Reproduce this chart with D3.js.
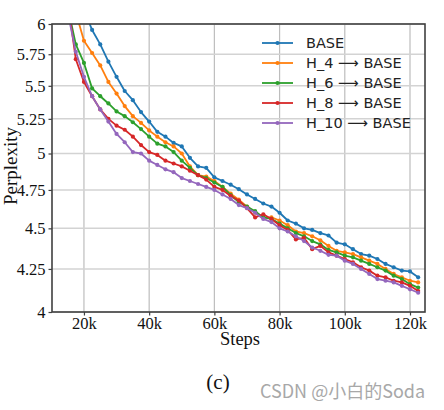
<!DOCTYPE html>
<html>
<head>
<meta charset="utf-8">
<script src="https://cdn.jsdelivr.net/npm/d3@7/dist/d3.min.js"></script>
<style>
  html, body { margin: 0; padding: 0; background: #fff; }
  svg { display: block; }
</style>
</head>
<body>
<svg id="chart" width="444" height="410"></svg>
<script>
// ---- data (steps in thousands) ----
const steps = [15,17.5,20,22.5,25,27.5,30,32.5,35,37.5,40,42.5,45,47.5,50,52.5,55,57.5,60,62.5,65,67.5,70,72.5,75,77.5,80,82.5,85,87.5,90,92.5,95,97.5,100,102.5,105,107.5,110,112.5,115,117.5,120,122.5];
const base = [6.55,6.32,6.12,5.95,5.83,5.69,5.57,5.46,5.39,5.30,5.23,5.155,5.12,5.075,5.05,4.97,4.91,4.90,4.835,4.81,4.785,4.755,4.72,4.69,4.66,4.64,4.60,4.55,4.53,4.50,4.49,4.47,4.455,4.41,4.40,4.37,4.34,4.33,4.31,4.28,4.26,4.24,4.235,4.20];
const h4 = [6.4,6.1,5.86,5.76,5.66,5.53,5.44,5.345,5.27,5.22,5.165,5.12,5.08,5.05,5.0,4.91,4.85,4.84,4.81,4.77,4.725,4.685,4.64,4.60,4.57,4.57,4.55,4.52,4.48,4.47,4.45,4.425,4.39,4.36,4.35,4.34,4.32,4.30,4.28,4.25,4.22,4.20,4.18,4.17];
const h6 = [6.15,5.83,5.68,5.48,5.42,5.365,5.305,5.27,5.225,5.175,5.12,5.07,5.05,5.01,4.95,4.90,4.85,4.83,4.80,4.77,4.715,4.67,4.64,4.61,4.57,4.56,4.53,4.50,4.47,4.45,4.42,4.40,4.365,4.35,4.33,4.32,4.30,4.28,4.26,4.24,4.21,4.19,4.16,4.14];
const h8 = [6.2,5.71,5.53,5.42,5.32,5.25,5.20,5.17,5.12,5.06,5.01,4.99,4.95,4.93,4.91,4.88,4.85,4.82,4.77,4.75,4.71,4.68,4.63,4.57,4.59,4.56,4.52,4.49,4.43,4.44,4.37,4.39,4.35,4.33,4.31,4.29,4.26,4.24,4.21,4.20,4.18,4.17,4.15,4.12];
const h10 = [6.1,5.77,5.57,5.42,5.32,5.23,5.14,5.08,5.01,5.00,4.95,4.92,4.89,4.87,4.83,4.81,4.79,4.77,4.75,4.72,4.69,4.65,4.63,4.60,4.56,4.54,4.50,4.48,4.45,4.42,4.38,4.36,4.335,4.33,4.30,4.28,4.25,4.22,4.19,4.18,4.17,4.15,4.13,4.11];
const seriesNames = ["BASE", "H_4 \u27F6 BASE", "H_6 \u27F6 BASE", "H_8 \u27F6 BASE", "H_10 \u27F6 BASE"];
const seriesValues = [base, h4, h6, h8, h10];
const colors = ["#1f77b4", "#ff7f0e", "#2ca02c", "#d62728", "#9467bd"];
const xTicks = [20, 40, 60, 80, 100, 120];
const yTicks = [4, 4.25, 4.5, 4.75, 5, 5.25, 5.5, 5.75, 6];
const yTickLabels = ["4", "4.25", "4.5", "4.75", "5", "5.25", "5.5", "5.75", "6"];

// ---- layout ----
const L = 52, R = 425, T = 24, B = 312;
const serif = "'Liberation Serif', 'Times New Roman', 'DejaVu Serif', serif";
const sans = "'DejaVu Sans', 'Liberation Sans', sans-serif";

const svg = d3.select("#chart");
const x = d3.scaleLinear().domain([10.2, 124.6]).range([L, R]);
const y = d3.scaleLog().domain([4, 6]).range([B, T]);

// clip
svg.append("defs").append("clipPath").attr("id", "clip")
  .append("rect").attr("x", L).attr("y", T).attr("width", R - L).attr("height", B - T);

// grid
const grid = svg.append("g");
grid.selectAll("line.vx").data(xTicks).enter().append("line")
  .attr("x1", d => x(d)).attr("x2", d => x(d)).attr("y1", T).attr("y2", B)
  .attr("stroke", "#bdbdbd").attr("stroke-width", 1.2);
grid.selectAll("line.hy").data(yTicks).enter().append("line")
  .attr("x1", L).attr("x2", R).attr("y1", d => y(d)).attr("y2", d => y(d))
  .attr("stroke", "#d3d3d3").attr("stroke-width", 1.5);

// series
const plot = svg.append("g").attr("clip-path", "url(#clip)");
const line = d3.line().x((d, i) => x(steps[i])).y(d => y(d));
seriesValues.forEach((vals, k) => {
  const g = plot.append("g");
  g.append("path").datum(vals).attr("d", line)
    .attr("fill", "none").attr("stroke", colors[k]).attr("stroke-width", 1.8)
    .attr("stroke-linejoin", "round");
  g.selectAll("circle").data(vals).enter().append("circle")
    .attr("cx", (d, i) => x(steps[i])).attr("cy", d => y(d)).attr("r", 2.1)
    .attr("fill", colors[k]);
});

// frame
svg.append("rect").attr("x", L).attr("y", T).attr("width", R - L).attr("height", B - T)
  .attr("fill", "none").attr("stroke", "#404040").attr("stroke-width", 1.6);

// axes
const xAxis = svg.append("g").attr("transform", `translate(0,${B})`)
  .call(d3.axisBottom(x).tickValues(xTicks).tickFormat(d => d + "k").tickSize(3.5).tickPadding(2));
const yAxis = svg.append("g").attr("transform", `translate(${L},0)`)
  .call(d3.axisLeft(y).tickValues(yTicks).tickFormat((d, i) => yTickLabels[i]).tickSize(3.5).tickPadding(3));
[xAxis, yAxis].forEach(a => {
  a.select(".domain").remove();
  a.selectAll(".tick line").attr("stroke", "#404040").attr("stroke-width", 1.2);
  a.selectAll(".tick text").attr("fill", "#111").style("font-family", serif).style("font-size", "16.5px");
});

// axis titles
svg.append("text").attr("x", 240).attr("y", 345).attr("text-anchor", "middle")
  .style("font-family", serif).style("font-size", "18.5px").attr("fill", "#111").text("Steps");
svg.append("text").attr("transform", "translate(17,166) rotate(-90)").attr("text-anchor", "middle")
  .style("font-family", serif).style("font-size", "19px").attr("fill", "#111").text("Perplexity");

// legend
const leg = svg.append("g");
seriesNames.forEach((name, k) => {
  const cy = 43 + k * 20;
  leg.append("line").attr("x1", 262).attr("x2", 293).attr("y1", cy).attr("y2", cy)
    .attr("stroke", colors[k]).attr("stroke-width", 1.8);
  leg.append("circle").attr("cx", 277.5).attr("cy", cy).attr("r", 2.1).attr("fill", colors[k]);
  leg.append("text").attr("x", 306).attr("y", cy + 5).style("font-family", sans)
    .style("font-size", "14.5px").attr("fill", "#222").text(name);
});

// caption
svg.append("text").attr("x", 218).attr("y", 389).attr("text-anchor", "middle")
  .style("font-family", serif).style("font-size", "21px").attr("fill", "#111").text("(c)");
svg.append("text").attr("x", 260).attr("y", 398)
  .style("font-family", "'Noto Sans CJK SC', 'DejaVu Sans', sans-serif").style("font-size", "18px")
  .attr("fill", "#a8a8a8").text("CSDN @小白的Soda");
</script>
</body>
</html>
